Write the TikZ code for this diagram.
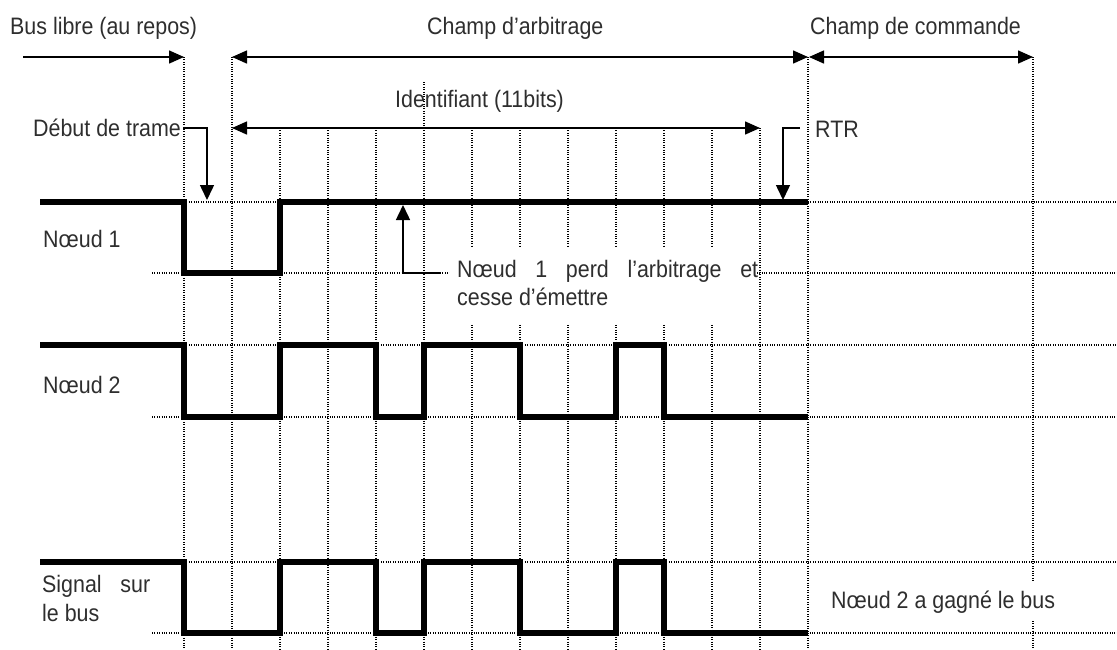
\documentclass[tikz,border=0pt]{standalone}
\usepackage{fontspec}
\setmainfont[FakeStretch=0.9]{Liberation Sans}
\usetikzlibrary{arrows.meta}
\begin{document}
\begin{tikzpicture}[x=1pt,y=-1pt,
  txt/.style={font=\fontsize{23.8}{29}\selectfont, text=black!82, inner sep=0pt},
  sig/.style={line width=5.5pt, line join=miter, line cap=butt},
  gridline/.style={line width=1.2pt, dash pattern=on 1pt off 1.4pt},
  tipT/.tip={Triangle[length=15pt,width=13pt]},
  dimline/.style={line width=1.5pt},
  leader/.style={line width=1.5pt, -{Triangle[length=15pt,width=14pt]}}]
\useasboundingbox (0,0) rectangle (1117,649);

% ---- grid (dotted) ----
\foreach \x in {184,232,808,1033} \draw[gridline] (\x,57) -- (\x,649);
\foreach \x in {280,328,...,760} \draw[gridline] (\x,128) -- (\x,649);
\draw[gridline] (424,82) -- (424,128);
\foreach \y in {202,345,562} \draw[gridline] (184,\y) -- (1117,\y);
\foreach \y in {273,417,633} \draw[gridline] (152,\y) -- (1117,\y);

% masks behind labels
\fill[white] (450,247) rectangle (757,323);
\fill[white] (822,582) rectangle (1060,620);

% ---- coordinates ----
\coordinate (busL) at (23,57);
\coordinate (busR) at (184,57);
\coordinate (arbL) at (232,57);
\coordinate (arbR) at (808,57);
\coordinate (cmdL) at (809,57);
\coordinate (cmdR) at (1033,57);
\coordinate (idL) at (232,128);
\coordinate (idR) at (760,128);
\coordinate (sof) at (207,200);
\coordinate (rtr) at (783,200);
\coordinate (lost) at (403,205);
\coordinate (lostK) at (440,273);

% ---- labels ----
\node[txt, anchor=base west] (tbus) at (10,34) {Bus libre (au repos)};
\node[txt, anchor=base west] (tarb) at (427,34) {Champ d’arbitrage};
\node[txt, anchor=base west] (tcmd) at (810,34) {Champ de commande};
\node[txt, anchor=base west] (tid) at (395,107) {Identifiant (11bits)};
\node[txt, anchor=base west] (tsof) at (33,136) {Début de trame};
\node[txt, anchor=base west] (trtr) at (815,137) {RTR};
\node[txt, anchor=base west] (tn1) at (43,247) {Nœud 1};
\node[txt, anchor=base west] (tn2) at (43,393) {Nœud 2};
\node[txt, anchor=base west] (tperd1) at (457,277) {\makebox[301pt][s]{Nœud 1 perd l’arbitrage et}};
\node[txt, anchor=base west] (tperd2) at (457,305) {cesse d’émettre};
\node[txt, anchor=base west] (tsig1) at (42,592) {\makebox[108pt][s]{Signal sur}};
\node[txt, anchor=base west] (tsig2) at (42,621) {le bus};
\node[txt, anchor=base west] (twin) at (831,608) {Nœud 2 a gagné le bus};

% ---- signals ----
\draw[sig] (40,202) -| (184,273) -| (280,202) -- (808,202);
\draw[sig] (40,345) -| (184,417) -| (280,345) -| (376,417) -| (424,345)
  -| (520,417) -| (616,345) -| (664,417) -- (808,417);
\draw[sig] (40,562) -| (184,633) -| (280,562) -| (376,633) -| (424,562)
  -| (520,633) -| (616,562) -| (664,633) -- (808,633);

% ---- dimension arrows ----
\draw[dimline, -tipT] (busL) -- (busR);
\draw[dimline, tipT-tipT] (arbL) -- (arbR);
\draw[dimline, tipT-tipT] (cmdL) -- (cmdR);
\draw[dimline, tipT-tipT] (idL) -- (idR);

% ---- leaders ----
\draw[leader] (tsof.east |- 0,128) ++(2,0) -| (sof);
\draw[leader] (800,128) -| (rtr);
\draw[leader] (lostK) -| (lost);
\end{tikzpicture}
\end{document}
